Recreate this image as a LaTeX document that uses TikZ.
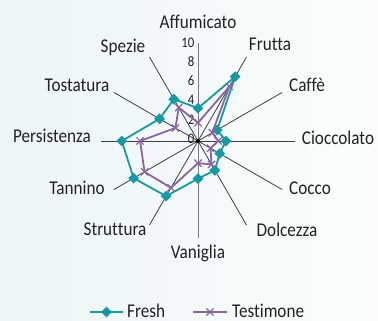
\documentclass[tikz,border=0pt]{standalone}
\usepackage{fontspec}
\setmainfont{Carlito}[FakeStretch=0.88,Ligatures=CommonOff]
\usetikzlibrary{shapes.geometric,shapes.misc}
\definecolor{bgl}{HTML}{ECF5F8}
\definecolor{bgr}{HTML}{FBFDFD}
\definecolor{teal1}{HTML}{1798A3}
\definecolor{purp}{HTML}{8A64A2}
\definecolor{axisc}{HTML}{3E3E3E}
\definecolor{vaxis}{HTML}{7A7A7A}
\definecolor{txt}{HTML}{222222}
\begin{document}
\begin{tikzpicture}[x=1pt,y=1pt,
  axisline/.style={draw=axisc,line width=0.8pt},
  valaxis/.style={draw=vaxis,line width=1pt},
  lab/.style={font=\fontsize{19.5}{20}\selectfont,text=txt,inner sep=0pt},
  tick/.style={font=\fontsize{14.5}{15}\selectfont,text=txt,inner sep=0pt,anchor=east},
  fresh/.style={draw=teal1,line width=1.8pt,line join=round},
  testi/.style={draw=purp,line width=1.8pt,line join=round},
  dia/.style={diamond,fill=teal1,inner sep=0pt,minimum size=11pt},
  xm/.style={cross out,draw=purp,line width=1.2pt,inner sep=0pt,minimum size=6pt}]
\shade[left color=bgl,right color=bgr] (0,0) rectangle (378,321);
\useasboundingbox (0,0) rectangle (378,321);
\coordinate (c) at (198,180);
% radial axes
\foreach \a [count=\i] in {60,30,0,-30,-60,-120,-150,180,150,120}
  \path (c) ++(\a:97) coordinate (e\i);
\foreach \i in {1,...,10} \draw[axisline] (c) -- (e\i);
\path (c) ++(90:98) coordinate (etop);
\path (c) ++(-90:97) coordinate (ebot);
\draw[valaxis] (c) -- (etop);
\draw[valaxis] (c) -- (ebot);
\fill[black] (c) circle (2pt);
% ticks
\foreach \v in {0,2,4,6,8,10}
  \node[tick] (t\v) at (194.5,{180+9.6*\v+2.5}) {\v};
% data
\foreach \a/\v [count=\i] in {90/3.4,60/7.7,30/2.3,0/2.9,-30/2.6,-60/3.5,-90/3.9,-120/6.6,-150/7.7,180/7.9,150/4.6,120/5.0}
  \coordinate (f\i) at ([shift={(\a:{\v*9.65})}]c);
\foreach \a/\v [count=\i] in {90/1.9,60/6.5,30/1.7,0/2.1,-30/1.5,-60/2.8,-90/2.3,-120/5.6,-150/6.4,180/6.0,150/2.7,120/4.0}
  \coordinate (g\i) at ([shift={(\a:{\v*9.65})}]c);
\draw[fresh] (f1)--(f2)--(f3)--(f4)--(f5)--(f6)--(f7)--(f8)--(f9)--(f10)--(f11)--(f12)--cycle;
\foreach \i in {1,...,12} \node[dia] (mf\i) at (f\i) {};
\draw[testi] (g1)--(g2)--(g3)--(g4)--(g5)--(g6)--(g7)--(g8)--(g9)--(g10)--(g11)--(g12)--cycle;
\foreach \i in {1,...,12} \node[xm] (mg\i) at (g\i) {};
% labels
\node[lab] (l1) at (198,299) {Affumicato};
\node[lab] (l2) at (270,277) {Frutta};
\node[lab] (l3) at (307,236) {Caffè};
\node[lab] (l4) at (338,183) {Cioccolato};
\node[lab] (l5) at (310,133) {Cocco};
\node[lab] (l6) at (287,91) {Dolcezza};
\node[lab] (l7) at (198,68) {Vaniglia};
\node[lab] (l8) at (115,92) {Struttura};
\node[lab] (l9) at (77,133) {Tannino};
\node[lab] (l10) at (52,185) {Persistenza};
\node[lab] (l11) at (77,236) {Tostatura};
\node[lab] (l12) at (123,274) {Spezie};
% legend
\coordinate (la) at (90,9);
\coordinate (lb) at (123,9);
\draw[fresh] (la) -- (lb);
\node[dia] (ld) at (106.5,9) {};
\node[lab,anchor=base west] (lt1) at (127,3.5) {Fresh};
\coordinate (lc) at (193,9);
\coordinate (ldd) at (227,9);
\draw[testi] (lc) -- (ldd);
\node[xm] (lx) at (210,9) {};
\node[lab,anchor=base west] (lt2) at (232,3.5) {Testimone};
\end{tikzpicture}
\end{document}
